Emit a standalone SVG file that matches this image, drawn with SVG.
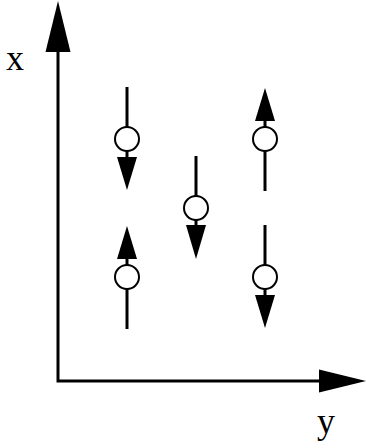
<svg xmlns="http://www.w3.org/2000/svg" width="366" height="448" viewBox="0 0 366 448">
<style>
.ln{stroke:#000;stroke-width:3;fill:none}
.hd{fill:#000;stroke:none}
.c{fill:#fff;stroke:#000;stroke-width:2}
.t{font-family:"Liberation Serif",serif;font-size:36px;fill:#000}
</style>
<rect width="366" height="448" fill="#fff"/>
<g id="axes">
<path class="ln" d="M58,50 V381 H322"/>
<polygon class="hd" points="58,1 45.5,52 70.5,52"/>
<polygon class="hd" points="366,381 319,369.5 319,392.5"/>
</g>
<g id="label-x"><text class="t" x="6" y="70">x</text></g>
<g id="label-y"><text class="t" x="317" y="433">y</text></g>
<g id="spin1">
<path class="ln" d="M127,87 V160"/>
<circle class="c" cx="127" cy="139" r="12"/>
<polygon class="hd" points="127,190 117,157 137,157"/>
</g>
<g id="spin2">
<path class="ln" d="M265,118 V191"/>
<circle class="c" cx="265" cy="139" r="12"/>
<polygon class="hd" points="265,88 255,121 275,121"/>
</g>
<g id="spin3">
<path class="ln" d="M196,156 V228"/>
<circle class="c" cx="196" cy="208" r="12"/>
<polygon class="hd" points="196,259 186,225 206,225"/>
</g>
<g id="spin4">
<path class="ln" d="M127,256 V329"/>
<circle class="c" cx="127" cy="277" r="12"/>
<polygon class="hd" points="127,226 117,259 137,259"/>
</g>
<g id="spin5">
<path class="ln" d="M265,225 V298"/>
<circle class="c" cx="265" cy="277" r="12"/>
<polygon class="hd" points="265,328 255,295 275,295"/>
</g>
</svg>
